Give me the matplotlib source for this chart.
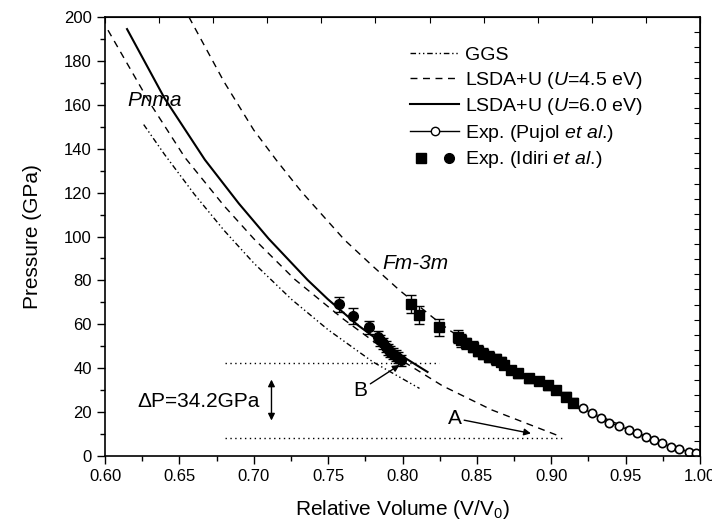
import numpy as np
import matplotlib
matplotlib.use('Agg')
import matplotlib.pyplot as plt
from matplotlib.lines import Line2D
from matplotlib.legend_handler import HandlerTuple
from matplotlib.ticker import MultipleLocator

plt.rcParams['font.family'] = ['Liberation Sans', 'DejaVu Sans']
plt.rcParams['mathtext.fontset'] = 'custom'
plt.rcParams['mathtext.rm'] = 'Liberation Sans'
plt.rcParams['mathtext.it'] = 'Liberation Sans:italic'
plt.rcParams['mathtext.default'] = 'regular'

# theory curves (V/V0, GPa)
ggs_v = [0.626, 0.64, 0.66, 0.68, 0.70, 0.7255, 0.75, 0.78, 0.8114]
ggs_p = [151, 137.4, 119.3, 102.8, 87.9, 71.3, 57.5, 42.9, 30.8]

u45_pnma_v = [0.602, 0.63, 0.6537, 0.68, 0.70, 0.7275, 0.76, 0.79, 0.8268, 0.86, 0.9034]
u45_pnma_p = [194, 161, 136, 114, 99, 80.5, 62.5, 47.5, 32, 21, 9.6]

u45_fm_v = [0.6564, 0.68, 0.70, 0.7154, 0.7322, 0.7611, 0.78, 0.798, 0.8201, 0.8315, 0.86, 0.892, 0.93, 0.965, 1.0]
u45_fm_p = [200, 170.5, 148.5, 134.6, 120.3, 98.4, 86.5, 75.5, 63.3, 57.3, 45.3, 32.8, 19, 8.5, 0]

u60_v = [0.6148, 0.64, 0.6671, 0.69, 0.71, 0.7362, 0.7497, 0.77, 0.79, 0.8168]
u60_p = [194.5, 163, 135, 115, 99, 80.2, 71.5, 59.6, 49.6, 38.3]

# experiment, Idiri et al. (Pnma, circles)
idiri_c_v = [0.7573, 0.767, 0.7772, 0.7834, 0.785, 0.7868, 0.7886, 0.7902, 0.7917, 0.7935, 0.7953, 0.7968, 0.7991]
idiri_c_p = [69.1, 63.8, 58.6, 54.4, 52.8, 51.3, 49.8, 48.6, 47.5, 46.5, 45.6, 44.8, 43.7]
idiri_c_e = [3.5, 3.5, 3.0, 2.5, 2.5, 2.5, 2.5, 2.5, 2.5, 2.5, 2.5, 2.5, 2.5]

# experiment, Idiri et al. (Fm-3m, squares)
idiri_s_v = [0.8058, 0.8114, 0.8244, 0.8371, 0.8394, 0.8427, 0.8472, 0.8505, 0.8539, 0.8584, 0.8629,
             0.8662, 0.8685, 0.8729, 0.8774, 0.8852, 0.8919, 0.8975, 0.9031, 0.9098, 0.9143]
idiri_s_p = [69.2, 64.2, 58.6, 54.4, 52.8, 51.3, 49.8, 48.0, 46.5, 45.2, 44.0,
             43.0, 41.5, 39.2, 37.7, 35.4, 34.2, 32.3, 30.1, 27.0, 24.3]
idiri_s_e = [4, 4, 4, 3, 3, 2.5, 2.5, 2.5, 2.5, 2.5, 2.5,
             2, 2, 2, 2, 2, 2, 2, 2, 2, 2]

# experiment, Pujol et al.
pujol_v = [0.921, 0.9277, 0.9333, 0.9389, 0.9456, 0.9523, 0.9579, 0.9635, 0.9691, 0.9747, 0.9803, 0.9859, 0.9926, 0.9971]
pujol_p = [21.7, 19.4, 17.2, 15.2, 13.7, 11.8, 10.3, 8.8, 7.3, 5.8, 4.2, 3.0, 2.0, 1.2]

p_high = 42.5
p_low = 8.3

fig = plt.figure(figsize=(7.12, 5.27), dpi=100)
ax = fig.add_axes([0.1475, 0.1347, 0.8357, 0.833])

dashdot = (0, (4, 2, 1, 2, 1, 2))
dashed = (0, (5, 4))

ax.plot(ggs_v, ggs_p, color='black', lw=1.0, ls=dashdot)
ax.plot(u45_pnma_v, u45_pnma_p, color='black', lw=1.0, ls=dashed)
ax.plot(u45_fm_v, u45_fm_p, color='black', lw=1.0, ls=dashed)
ax.plot(u60_v, u60_p, color='black', lw=1.5)

ax.errorbar(idiri_c_v, idiri_c_p, yerr=idiri_c_e, fmt='o', color='black', ms=7,
            capsize=3.5, elinewidth=1, capthick=1)
ax.errorbar(idiri_s_v, idiri_s_p, yerr=idiri_s_e, fmt='s', color='black', ms=7,
            capsize=3.5, elinewidth=1, capthick=1)
ax.plot(pujol_v, pujol_p, color='black', lw=1, marker='o', ms=6, mfc='white', mec='black', mew=1.2)

# transition pressures
ax.plot([0.6805, 0.8248], [p_high, p_high], color='black', lw=1, ls=(0, (1, 2.5)))
ax.plot([0.6805, 0.9074], [p_low, p_low], color='black', lw=1, ls=(0, (1, 2.5)))
ax.annotate('', xy=(0.7119, 14.9), xytext=(0.7119, 36.1),
            arrowprops=dict(arrowstyle='<|-|>', color='black', lw=1, mutation_scale=10))
ax.text(0.663, 24.7, '\u0394P=34.2GPa', fontsize=15, ha='center', va='center')

ax.annotate('B', xy=(0.798, 41.5), xytext=(0.7765, 30), fontsize=15, ha='right', va='center',
            arrowprops=dict(arrowstyle='-|>', color='black', lw=1, mutation_scale=10, shrinkA=0, shrinkB=0))
ax.annotate('A', xy=(0.8863, 10.3), xytext=(0.8349, 17.2), fontsize=15, ha='center', va='center',
            arrowprops=dict(arrowstyle='-|>', color='black', lw=1, mutation_scale=10, shrinkA=0, shrinkB=0))

ax.text(0.6336, 162, 'Pnma', fontsize=15, style='italic', ha='center', va='center')
ax.text(0.7866, 87.8, 'Fm-3m', fontsize=15, style='italic', ha='left', va='center')

ax.set_xlim(0.6, 1.0)
ax.set_ylim(0, 200)
ax.xaxis.set_major_locator(MultipleLocator(0.05))
ax.xaxis.set_minor_locator(MultipleLocator(0.025))
ax.yaxis.set_major_locator(MultipleLocator(20))
ax.yaxis.set_minor_locator(MultipleLocator(10))
ax.xaxis.set_major_formatter(plt.FormatStrFormatter('%.2f'))
ax.tick_params(which='major', direction='out', length=6, width=1, labelsize=12)
ax.tick_params(which='minor', direction='out', length=3.5, width=1)
for s in ax.spines.values():
    s.set_linewidth(1.2)

# unlabelled ticks on top and right
top = ax.secondary_xaxis('top', functions=(lambda v: (v - 0.6) * 27.5, lambda t: t / 27.5 + 0.6))
top.set_xticks(range(12))
top.tick_params(direction='in', length=4, labeltop=False)
right = ax.secondary_yaxis('right', functions=(lambda p: p * 29 / 200, lambda t: t * 200 / 29))
right.set_yticks(range(30))
right.tick_params(direction='in', length=4, labelright=False)

ax.set_xlabel('Relative Volume (V/V$_0$)', fontsize=15, labelpad=10)
ax.set_ylabel('Pressure (GPa)', fontsize=15, labelpad=16)

h_ggs = Line2D([], [], color='black', lw=1.0, ls=dashdot)
h_45 = Line2D([], [], color='black', lw=1.0, ls=dashed)
h_60 = Line2D([], [], color='black', lw=1.5)
h_pu = Line2D([], [], color='black', lw=1, marker='o', ms=6, mfc='white', mec='black')
h_sq = Line2D([], [], color='black', ls='none', marker='s', ms=7)
h_ci = Line2D([], [], color='black', ls='none', marker='o', ms=7)
ax.legend([h_ggs, h_45, h_60, h_pu, (h_sq, h_ci)],
          ['GGS', 'LSDA+U ($\\mathit{U}$=4.5 eV)', 'LSDA+U ($\\mathit{U}$=6.0 eV)',
           'Exp. (Pujol $\\mathit{et\\ al}$.)', 'Exp. (Idiri $\\mathit{et\\ al}$.)'],
          handler_map={tuple: HandlerTuple(ndivide=None)},
          loc='upper left', bbox_to_anchor=(0.5, 0.951), frameon=False, fontsize=14,
          handlelength=2.5, handletextpad=0.3, labelspacing=0.29, borderaxespad=0)

fig.savefig('out.png', dpi=100)
